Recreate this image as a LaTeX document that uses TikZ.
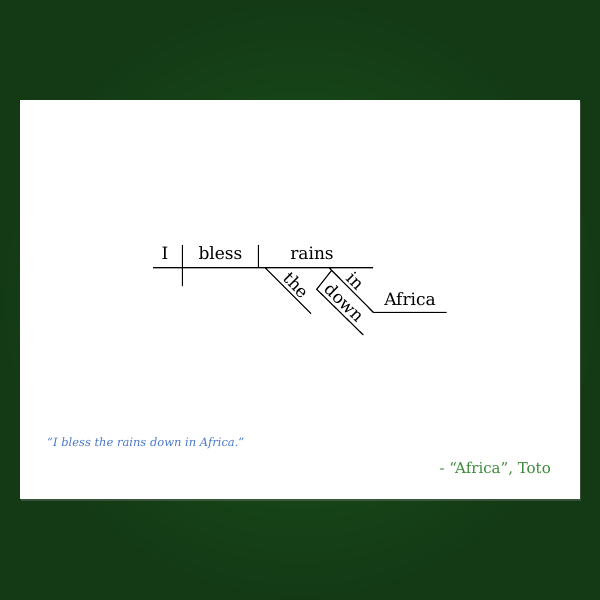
\documentclass[tikz,border=0pt]{standalone}
\usepackage{fontspec}
\setmainfont{DejaVu Serif}
\usetikzlibrary{shadows}

\definecolor{bgedge}{HTML}{133A15}
\definecolor{bgmid}{HTML}{1F561E}
\definecolor{quoteblue}{HTML}{4A78C8}
\definecolor{tototgreen}{HTML}{3A8A3A}

\tikzset{
  card/.style={fill=white, draw=none, minimum width=560pt, minimum height=399pt,
    inner sep=0pt, drop shadow={opacity=0.35, shadow xshift=1pt, shadow yshift=-2pt}},
  word/.style={anchor=base, inner sep=0pt, font=\fontsize{17}{19}\selectfont},
  mod/.style={sloped, above, inner sep=3pt, font=\fontsize{17}{19}\selectfont},
  rule/.style={line width=1.1pt, black}
}

\begin{document}
\begin{tikzpicture}[x=1pt, y=-1pt]
        % Background and card
        \useasboundingbox (0,0) rectangle (600,600);
        \shade[inner color=bgmid, outer color=bgedge] (0,0) rectangle (600,600);
        \node[card] (card) at (300,299.5) {};

        % Add the line ends
        \coordinate (bl) at (153,267.7);
        \coordinate (br) at (373,267.7);
        \coordinate (s1) at (182.3,245);
        \coordinate (s2) at (182.3,286);
        \coordinate (v1) at (258.3,245);
        \coordinate (v2) at (258.3,267.7);
        \coordinate (t1) at (265,267.7);
        \coordinate (t2) at (311,313.7);
        \coordinate (i1) at (329,267.7);
        \coordinate (i2) at (373.3,312.3);
        \coordinate (o2) at (446.7,312.3);
        \coordinate (d0) at (331.5,270.5);
        \coordinate (d1) at (316.7,289.3);
        \coordinate (d2) at (363.3,335);

        % Add the words
        \node[word] (I)      at (165,259)   {I};
        \node[word] (bless)  at (220.5,259) {bless};
        \node[word] (rains)  at (312,259)   {rains};
        \node[word] (africa) at (410,305)   {Africa};

        \draw[rule]
            (bl) -- (br)
            (s1) -- (s2)
            (v1) -- (v2)
            (t1) -- node[mod, pos=0.53] {the} (t2)
            (i1) -- node[mod, pos=0.45] {in} (i2) -- (o2)
            (d0) -- (d1) -- node[mod, pos=0.45] {down} (d2);

        % Quote and source
        \node[anchor=base west, inner sep=0pt, text=quoteblue,
              font=\fontsize{11.5}{13}\selectfont\itshape] (quote) at (47,446)
              {“I bless the rains down in Africa.”};
        \node[anchor=base east, inner sep=0pt, text=tototgreen,
              font=\fontsize{15}{17}\selectfont] (source) at (551,473)
              {- “Africa”, Toto};
\end{tikzpicture}
\end{document}
